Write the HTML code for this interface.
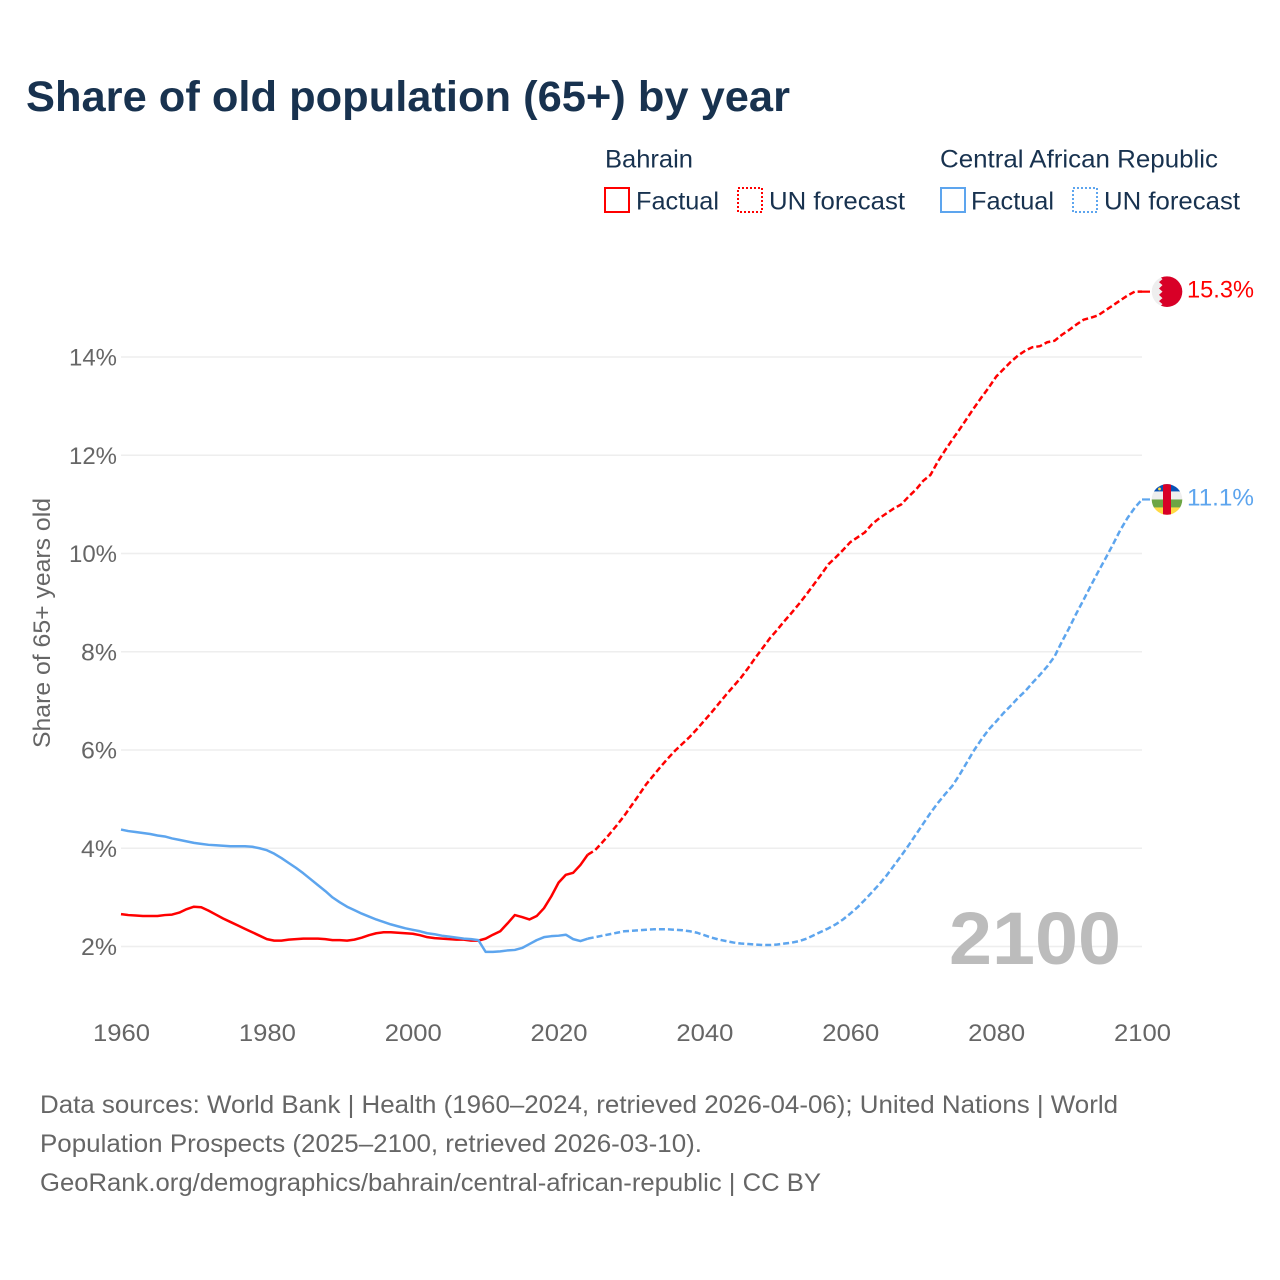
<!DOCTYPE html>
<html lang="en">
<head>
<meta charset="utf-8">
<title>Share of old population (65+) by year</title>
<style>
html,body{margin:0;padding:0;background:#fff;}
svg{display:block;}
text{font-family:"Liberation Sans",sans-serif;}
</style>
</head>
<body>
<svg id="chart" width="1280" height="1280" viewBox="0 0 1280 1280" xmlns="http://www.w3.org/2000/svg">
  <text x="26" y="111" font-size="43" font-weight="700" fill="#18324f" textLength="764" lengthAdjust="spacingAndGlyphs">Share of old population (65+) by year</text>

  <g font-size="25" fill="#18324f">
    <text x="605" y="167.5" textLength="88" lengthAdjust="spacingAndGlyphs">Bahrain</text>
    <rect x="605" y="188" width="24" height="24" fill="none" stroke="#ff0000" stroke-width="2"/>
    <text x="636" y="209.5" textLength="83" lengthAdjust="spacingAndGlyphs">Factual</text>
    <rect x="738" y="188" width="24" height="24" fill="none" stroke="#ff0000" stroke-width="2" stroke-dasharray="2 2"/>
    <text x="769" y="209.5" textLength="136" lengthAdjust="spacingAndGlyphs">UN forecast</text>

    <text x="940" y="167.5" textLength="278" lengthAdjust="spacingAndGlyphs">Central African Republic</text>
    <rect x="941" y="188" width="24" height="24" fill="none" stroke="#5da5ee" stroke-width="2"/>
    <text x="971" y="209.5" textLength="83" lengthAdjust="spacingAndGlyphs">Factual</text>
    <rect x="1073" y="188" width="24" height="24" fill="none" stroke="#5da5ee" stroke-width="2" stroke-dasharray="2 2"/>
    <text x="1104" y="209.5" textLength="136" lengthAdjust="spacingAndGlyphs">UN forecast</text>
  </g>

  <g id="grid"></g>
  <g id="yticks"></g>
  <g id="xticks"></g>

  <text transform="translate(50,623) rotate(-90)" text-anchor="middle" font-size="24" fill="#666666" textLength="250" lengthAdjust="spacingAndGlyphs">Share of 65+ years old</text>

  <text x="949" y="964" font-size="74" font-weight="700" fill="#bcbcbc" textLength="172" lengthAdjust="spacingAndGlyphs">2100</text>

  <g id="series"></g>
  <g id="ends"></g>

  <g font-size="25" fill="#666666">
    <text x="40" y="1113" textLength="1078" lengthAdjust="spacingAndGlyphs">Data sources: World Bank | Health (1960–2024, retrieved 2026-04-06); United Nations | World</text>
    <text x="40" y="1152" textLength="662" lengthAdjust="spacingAndGlyphs">Population Prospects (2025–2100, retrieved 2026-03-10).</text>
    <text x="40" y="1191" textLength="781" lengthAdjust="spacingAndGlyphs">GeoRank.org/demographics/bahrain/central-african-republic | CC BY</text>
  </g>
</svg>
<script>
const factualStartYear = 1960;
const forecastStartYear = 2024;
const xTickYears = [1960, 1980, 2000, 2020, 2040, 2060, 2080, 2100];
const yTickValues = [2, 4, 6, 8, 10, 12, 14];

const bahrainFactual = [
  2.66,2.64,2.63,2.62,2.62,2.62,2.64,2.65,2.69,2.76,
  2.81,2.80,2.73,2.65,2.57,2.50,2.43,2.36,2.29,2.22,
  2.15,2.12,2.12,2.14,2.15,2.16,2.16,2.16,2.15,2.13,
  2.13,2.12,2.14,2.18,2.23,2.27,2.29,2.29,2.28,2.27,
  2.26,2.23,2.19,2.17,2.16,2.15,2.14,2.14,2.12,2.12,
  2.16,2.24,2.31,2.47,2.64,2.60,2.55,2.62,2.78,3.02,
  3.30,3.46,3.50,3.66,3.87
];
const bahrainForecast = [
  3.87,3.96,4.12,4.29,4.47,4.66,4.87,5.08,5.30,5.48,
  5.66,5.83,5.99,6.13,6.27,6.43,6.60,6.77,6.95,7.13,
  7.30,7.47,7.67,7.88,8.08,8.28,8.45,8.63,8.80,8.98,
  9.17,9.37,9.57,9.78,9.92,10.07,10.23,10.33,10.43,10.60,
  10.72,10.82,10.92,11.00,11.16,11.30,11.48,11.60,11.87,12.10,
  12.32,12.53,12.75,12.97,13.18,13.38,13.60,13.75,13.90,14.03,
  14.13,14.20,14.22,14.30,14.33,14.45,14.55,14.66,14.76,14.80,
  14.85,14.95,15.05,15.15,15.25,15.33,15.33
];
const carFactual = [
  4.38,4.35,4.33,4.31,4.29,4.26,4.24,4.20,4.17,4.14,
  4.11,4.09,4.07,4.06,4.05,4.04,4.04,4.04,4.03,4.00,
  3.96,3.89,3.80,3.70,3.60,3.49,3.37,3.25,3.13,3.00,
  2.90,2.81,2.74,2.67,2.61,2.55,2.50,2.45,2.41,2.37,
  2.34,2.31,2.27,2.25,2.22,2.20,2.18,2.16,2.15,2.13,
  1.89,1.89,1.90,1.92,1.93,1.97,2.05,2.13,2.19,2.21,
  2.22,2.24,2.15,2.11,2.16
];
const carForecast = [
  2.16,2.19,2.22,2.25,2.28,2.31,2.32,2.33,2.34,2.35,
  2.35,2.35,2.34,2.33,2.31,2.28,2.23,2.18,2.14,2.11,
  2.08,2.06,2.05,2.04,2.03,2.03,2.04,2.06,2.08,2.11,
  2.16,2.23,2.30,2.37,2.45,2.55,2.67,2.80,2.95,3.11,
  3.27,3.45,3.65,3.85,4.06,4.28,4.50,4.72,4.92,5.10,
  5.27,5.50,5.75,6.00,6.22,6.42,6.58,6.75,6.90,7.06,
  7.20,7.37,7.53,7.70,7.90,8.20,8.48,8.78,9.06,9.35,
  9.63,9.90,10.18,10.47,10.72,10.93,11.10
];

const NS = 'http://www.w3.org/2000/svg';
function xScale(year) { return 121 + (year - 1960) * (1142 - 121) / 140; }
function yScale(value) { return 946.5 - (value - 2) * (946.5 - 357) / 12; }
function make(parent, tag, attrs, content) {
  const el = document.createElementNS(NS, tag);
  for (const key in attrs) el.setAttribute(key, attrs[key]);
  if (content !== undefined) el.textContent = content;
  parent.appendChild(el);
  return el;
}
function linePath(values, startYear) {
  return values.map(function (v, i) {
    return (i ? 'L' : 'M') + xScale(startYear + i).toFixed(2) + ' ' + yScale(v).toFixed(2);
  }).join(' ');
}

const gridGroup = document.getElementById('grid');
const yTickGroup = document.getElementById('yticks');
yTickValues.forEach(function (v) {
  const line = make(gridGroup, 'line', { x1: 121, x2: 1142, y1: yScale(v), y2: yScale(v), stroke: '#eeeeee', 'stroke-width': 1.6 });
  
  
  const label = make(yTickGroup, 'text', { x: 117, y: yScale(v) + 8.5, 'text-anchor': 'end', 'font-size': 24, fill: '#666666', textLength: v >= 10 ? 48 : 36, lengthAdjust: 'spacingAndGlyphs' }, v + '%');
  
  
});

const xTickGroup = document.getElementById('xticks');
xTickYears.forEach(function (yr) {
  const label = make(xTickGroup, 'text', { x: xScale(yr) + 0.5, y: 1041, 'text-anchor': 'middle', 'font-size': 24, fill: '#666666', textLength: 57, lengthAdjust: 'spacingAndGlyphs' }, String(yr));
  
  
});

const seriesGroup = document.getElementById('series');
function drawLine(name, values, startYear, color, dash) {
  const attrs = { d: linePath(values, startYear), fill: 'none', stroke: color, 'stroke-width': 2.5, 'stroke-linejoin': 'round' };
  if (dash) attrs['stroke-dasharray'] = '6 3';
  const path = make(seriesGroup, 'path', attrs);
  
  
}
drawLine('line-bahrain-forecast', bahrainForecast, forecastStartYear, '#ff0000', true);
drawLine('line-car-forecast', carForecast, forecastStartYear, '#5da5ee', true);
drawLine('line-bahrain-factual', bahrainFactual, factualStartYear, '#ff0000', false);
drawLine('line-car-factual', carFactual, factualStartYear, '#5da5ee', false);

const endsGroup = document.getElementById('ends');
const lastYear = forecastStartYear + bahrainForecast.length - 1;
const flagX = 1167;

/* Bahrain end marker */
const bahrainLast = bahrainForecast[bahrainForecast.length - 1];
const bahrainY = yScale(bahrainLast);
const bahrainConnector = make(endsGroup, 'line', { x1: xScale(lastYear), x2: 1150, y1: bahrainY, y2: bahrainY, stroke: '#ff0000', 'stroke-width': 2.2 });


const bahrainFlag = make(endsGroup, 'g', { transform: 'translate(' + flagX + ',' + bahrainY + ')' });


make(bahrainFlag, 'circle', { cx: 0, cy: 0, r: 15.3, fill: '#eeeeee' });
const bahrainClip = make(bahrainFlag, 'clipPath', { id: 'flagClipBh' });
make(bahrainClip, 'circle', { cx: 0, cy: 0, r: 15.3 });
make(bahrainFlag, 'polygon', { 'clip-path': 'url(#flagClipBh)', fill: '#d80027', points: '16,-16 -8,-16 -4.5,-12.5 -8,-9.5 -4.5,-6.5 -8,-3.2 -4.5,0 -8,3.2 -4.5,6.5 -8,9.5 -4.5,12.5 -8,16 16,16' });
const bahrainLabel = make(endsGroup, 'text', { x: 1187, y: bahrainY + 6, 'font-size': 24, fill: '#ff0000', textLength: 67, lengthAdjust: 'spacingAndGlyphs' }, bahrainLast.toFixed(1) + '%');



/* Central African Republic end marker */
const carLast = carForecast[carForecast.length - 1];
const carY = yScale(carLast);
const carConnector = make(endsGroup, 'line', { x1: xScale(lastYear), x2: 1150, y1: carY, y2: carY, stroke: '#5da5ee', 'stroke-width': 2.2 });


const carFlag = make(endsGroup, 'g', { transform: 'translate(' + flagX + ',' + carY + ')' });


const carClip = make(carFlag, 'clipPath', { id: 'flagClipCar' });
make(carClip, 'circle', { cx: 0, cy: 0, r: 15.3 });
const carStripes = make(carFlag, 'g', { 'clip-path': 'url(#flagClipCar)' });
make(carStripes, 'rect', { x: -16, y: -16, width: 32, height: 8, fill: '#0a52b5' });
make(carStripes, 'rect', { x: -16, y: -8, width: 32, height: 8, fill: '#eeeeee' });
make(carStripes, 'rect', { x: -16, y: 0, width: 32, height: 8, fill: '#6da544' });
make(carStripes, 'rect', { x: -16, y: 8, width: 32, height: 8, fill: '#ffda44' });
make(carStripes, 'rect', { x: -4, y: -16, width: 8, height: 32, fill: '#d80027' });
make(carStripes, 'circle', { cx: -7.5, cy: -10.5, r: 1.4, fill: '#ffda44' });
const carLabel = make(endsGroup, 'text', { x: 1187, y: carY + 6, 'font-size': 24, fill: '#5da5ee', textLength: 67, lengthAdjust: 'spacingAndGlyphs' }, carLast.toFixed(1) + '%');


</script>
</body>
</html>
